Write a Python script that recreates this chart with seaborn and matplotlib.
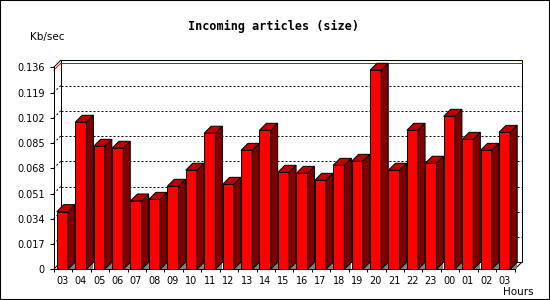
import numpy as np
import pandas as pd
import matplotlib
matplotlib.use('Agg')
import matplotlib.pyplot as plt
import seaborn as sns
from matplotlib.patches import Polygon, Rectangle
from matplotlib.lines import Line2D
from matplotlib.transforms import IdentityTransform

# ---- data ----
hours = ['03', '04', '05', '06', '07', '08', '09', '10', '11', '12', '13', '14',
         '15', '16', '17', '18', '19', '20', '21', '22', '23', '00', '01', '02', '03']
kbps = [0.0388, 0.0990, 0.0828, 0.0815, 0.0460, 0.0471, 0.0559, 0.0667, 0.0916,
        0.0572, 0.0801, 0.0936, 0.0653, 0.0646, 0.0599, 0.0700, 0.0727, 0.1340,
        0.0667, 0.0936, 0.0714, 0.1030, 0.0875, 0.0801, 0.0922]
yticks = [0, 0.017, 0.034, 0.051, 0.068, 0.085, 0.102, 0.119, 0.136]
ytick_labels = ['0', '0.017', '0.034', '0.051', '0.068', '0.085', '0.102', '0.119', '0.136']
title = 'Incoming articles (size)'
ylabel = 'Kb/sec'
xlabel = 'Hours'

sns.set_style('white')
plt.rcParams['font.family'] = ['DejaVu Sans']
plt.rcParams['text.color'] = 'black'
plt.rcParams['xtick.color'] = 'black'
plt.rcParams['ytick.color'] = 'black'

W, H = 550, 300
LW = 0.72  # ~1 px
fig = plt.figure(figsize=(W / 100, H / 100), dpi=100)
fig.patch.set_facecolor('white')
left_px, right_px, bot_px, top_px = 53.7, 514.7, 269.3, 67.3
ax = fig.add_axes([left_px / W, (H - bot_px) / H, (right_px - left_px) / W, (bot_px - top_px) / H])
ax.set_facecolor('white')

df = pd.DataFrame({'slot': np.arange(len(kbps)), 'value': kbps})
sns.barplot(data=df, x='slot', y='value', color='#ff0000', saturation=1, width=0.61,
            edgecolor='black', linewidth=LW, errorbar=None, ax=ax, zorder=3)

x0, x1 = -0.47, 24.55
ax.set_xlim(x0, x1)
ax.set_ylim(0, 0.136)
ax.set_xlabel('')
ax.set_ylabel('')
for s in ['top', 'right']:
    ax.spines[s].set_visible(False)
for s in ['left', 'bottom']:
    ax.spines[s].set_linewidth(LW)
    ax.spines[s].set_color('black')
    ax.spines[s].set_zorder(5)

ax.set_yticks(yticks)
ax.set_yticklabels(ytick_labels)
ax.tick_params(axis='y', direction='out', length=2.9, width=LW, pad=3.4, labelsize=7,
               colors='black', left=True)
ax.set_xticks(range(len(hours)))
ax.set_xticklabels(hours)
ax.tick_params(axis='x', which='major', length=0, pad=5.0, labelsize=7, colors='black')
ax.set_xticks([k - 0.46 for k in range(26) if k - 0.46 <= x1], minor=True)
ax.tick_params(axis='x', which='minor', direction='out', length=2.2, width=LW, bottom=True,
               color='black')

T = ax.transData.transform
d = np.array([7.0, 7.0])
ident = IdentityTransform()
DOT = (0, (2, 2))

def line(p, q, **kw):
    ax.add_artist(Line2D([p[0], q[0]], [p[1], q[1]], transform=ident, clip_on=False, **kw))

# back frame
bl = T((x0, 0)) + d
br = T((x1, 0)) + d
tl = T((x0, 0.136)) + d
tr = T((x1, 0.136)) + d
ax.add_artist(Polygon([bl, br, tr, tl], closed=True, fill=False, edgecolor='black',
                      linewidth=LW, transform=ident, clip_on=False, zorder=0.5))
# grid lines at back and short diagonals at left
for yt in yticks[1:-1]:
    p = T((x0, yt))
    q = T((x1, yt))
    line(p + d, q + d, color='black', linewidth=LW, linestyle=DOT, zorder=0.6)
    line(p, p + d, color='black', linewidth=LW, linestyle=DOT, zorder=0.6)
line(T((x0, 0.136)), T((x0, 0.136)) + d, color='black', linewidth=LW, zorder=0.6)
line(T((x0, 0)), T((x0, 0)) + d, color='black', linewidth=LW, zorder=0.6)
line(T((x1, 0)), T((x1, 0)) + d, color='black', linewidth=LW, zorder=0.6)
# max line (red)
vmax = max(kbps)
pm = T((x0, vmax))
qm = T((x1, vmax))
line(pm + d, qm + d, color='#ff0000', linewidth=LW, zorder=0.7)
line(pm, pm + d, color='#ff0000', linewidth=LW, zorder=0.7)

# 3D faces
for p in ax.patches[:len(kbps)]:
    x, w, h = p.get_x(), p.get_width(), p.get_height()
    fr0 = T((x + w, 0))
    tl0 = T((x, h))
    tr0 = T((x + w, h))
    ax.add_artist(Polygon([fr0, fr0 + np.array([d[0], 0]), fr0 + d], closed=True,
                          facecolor='#808080', edgecolor='none',
                          transform=ident, clip_on=False, zorder=2))
    ax.add_artist(Polygon([fr0, fr0 + d, tr0 + d, tr0], closed=True,
                          facecolor='#800000', edgecolor='black', linewidth=LW,
                          transform=ident, clip_on=False, zorder=3))
    ax.add_artist(Polygon([tl0, tr0, tr0 + d, tl0 + d], closed=True,
                          facecolor='#c00000', edgecolor='black', linewidth=LW,
                          transform=ident, clip_on=False, zorder=3))

# texts
fig.text(274 / W, 1 - 26.7 / H, title, ha='center', va='center', color='black',
         fontfamily='DejaVu Sans Mono', fontweight='bold', fontsize=8.5)
fig.text(30 / W, 1 - 37.3 / H, ylabel, ha='left', va='center', fontsize=7.5, color='black')
fig.text(534 / W, 1 - 291.7 / H, xlabel, ha='right', va='center', fontsize=7.5, color='black')

fig.add_artist(Rectangle((0, 0), 1, 1, transform=fig.transFigure, fill=False,
                         edgecolor='black', linewidth=1.5))

fig.savefig('out.png', dpi=100)
